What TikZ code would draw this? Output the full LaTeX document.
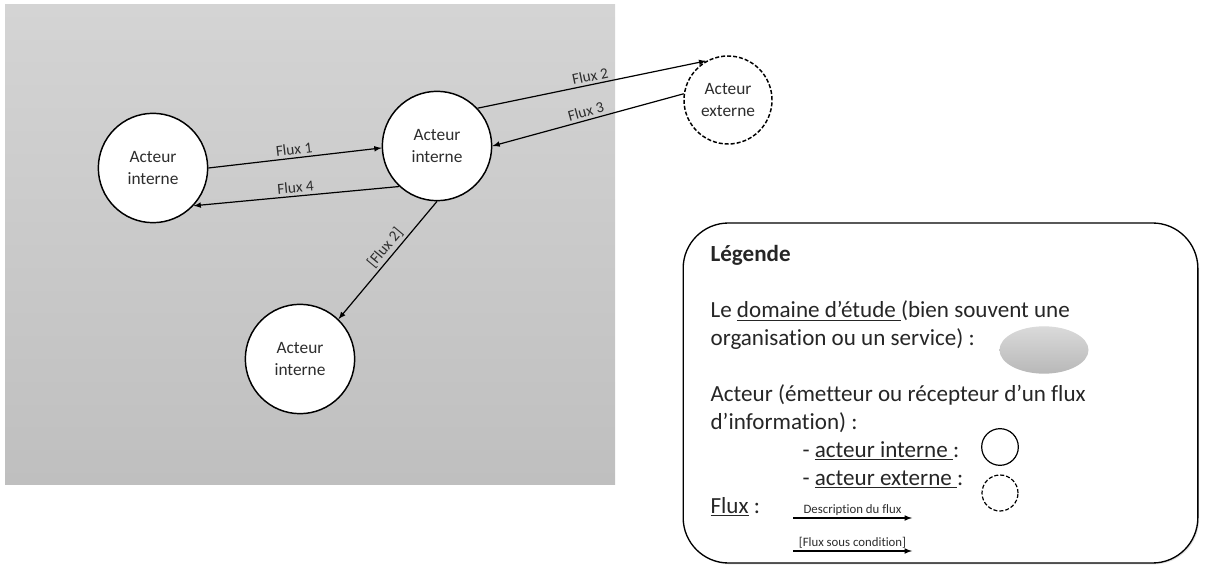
\documentclass[tikz,border=0pt]{standalone}
\usepackage{fontspec}
\setmainfont{Carlito}[Ligatures=NoCommon]
\usepackage{tikz}
\usetikzlibrary{arrows,shadows,shapes.geometric}

\definecolor{domtop}{RGB}{212,212,212}
\definecolor{dombot}{RGB}{191,191,191}
\definecolor{symtop}{RGB}{218,218,218}
\definecolor{symbot}{RGB}{184,184,184}
\definecolor{txtgray}{RGB}{45,45,45}

\begin{document}
\begin{tikzpicture}[
                    x=0.75pt,
                    y=-0.75pt,
                    ->,
                    >=latex,
                    auto,
                    line width=0.9pt
                ]
                \tikzstyle{acteur}=[circle,draw=black,fill=white,line width=1.1pt,minimum size=82pt,inner sep=0pt,align=center,text=txtgray,font=\fontsize{13}{16}\selectfont]
                \tikzstyle{externe}=[acteur,dash pattern=on 3pt off 1.5pt]
                \tikzstyle{flux}=[sloped,inner sep=2pt,text=txtgray,font=\fontsize{11.5}{13}\selectfont]
                \tikzstyle{legtext}=[anchor=base west,inner sep=0pt,text=black!85,font=\fontsize{17.3}{21}\selectfont]
                \tikzstyle{petit}=[above,inner sep=1.5pt,text=txtgray,font=\fontsize{9.6}{11}\selectfont]

                \useasboundingbox (0,0) rectangle (1206,566);

                % domaine d'etude
                \shade[-,top color=domtop,bottom color=dombot] (5,5) rectangle (615,484);

                \node[acteur]                       (gauche) at (153,168) {Acteur\\interne};
                \node[acteur]                       (centre) at (437,146) {Acteur\\interne};
                \node[acteur]                       (bas)    at (300,359) {Acteur\\interne};
                \node[externe,minimum size=66pt]    (ext)    at (728,100) {Acteur\\externe};

                \path
                (gauche.0)   edge node[flux]          {Flux 1}   (centre.182)
                (centre.227) edge node[flux]          {Flux 4}   (gauche.317)
                (centre.43)  edge node[flux]          {Flux 2}   (ext.119)
                (ext.172)    edge node[flux]          {Flux 3}   (centre.0)
                (centre.270) edge node[flux,pos=0.45] {[Flux 2]} (bas.46)
                ;

                % legende
                \node[draw=black,line width=1pt,fill=white,rounded corners=34pt,minimum width=386pt,minimum height=255pt,drop shadow={opacity=0.25,shadow xshift=1pt,shadow yshift=-1pt}] (legende) at (940.5,393) {};

                \node[legtext,font=\bfseries\fontsize{17.3}{21}\selectfont] (titre) at (710,262) {Légende};
                \node[legtext] (dom1) at (710,318) {Le \underline{domaine d’étude\ }(bien souvent une};
                \node[legtext] (dom2) at (710,346) {organisation ou un service) :};
                \node[legtext] (act1) at (710,402) {Acteur (émetteur ou récepteur d’un flux};
                \node[legtext] (act2) at (710,429) {d’information) :};
                \node[legtext] (int)  at (802,457) {- \underline{acteur interne\ }:};
                \node[legtext] (extl) at (802,485) {- \underline{acteur externe\ }:};
                \node[legtext] (flx)  at (710,513) {\underline{Flux} :};

                \node[ellipse,minimum width=66.75pt,minimum height=35.5pt,top color=symtop,bottom color=symbot] (domsym) at (1044,350) {};
                \node[acteur,line width=0.9pt,minimum size=27.5pt]  (intsym) at (1000,447) {};
                \node[externe,line width=0.9pt,minimum size=27pt]   (extsym) at (1000,493) {};

                \coordinate (d1) at (793,518);
                \coordinate (d2) at (912,518);
                \coordinate (c1) at (793,551);
                \coordinate (c2) at (912,551);
                \draw (d1) -- node[petit] {Description du flux} (d2);
                \draw (c1) -- node[petit] {[Flux sous condition]} (c2);
            \end{tikzpicture}
\end{document}
